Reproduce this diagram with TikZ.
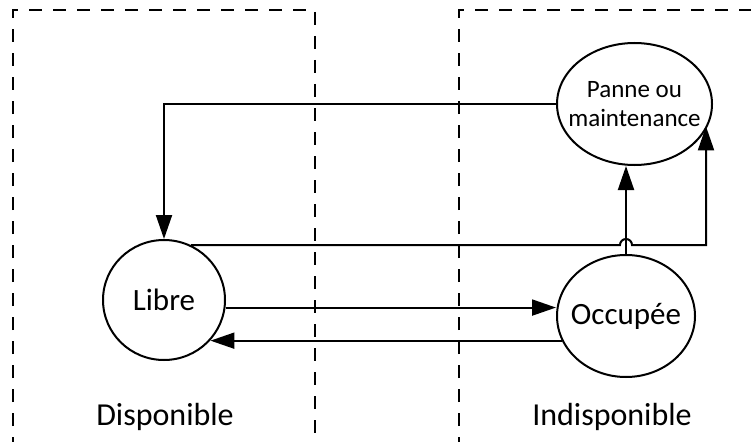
\documentclass[tikz,border=0pt]{standalone}
\usepackage{fontspec}
\setmainfont{Carlito}
\usetikzlibrary{shapes.geometric,arrows.meta}
\tikzset{
  state/.style={draw, ellipse, line width=2pt, inner sep=0pt, font=\fontsize{31}{34}\selectfont},
  arr/.style={line width=2pt, -{Triangle[length=24pt,width=16pt]}},
  zone/.style={line width=2pt, dash pattern=on 13pt off 11pt},
  zonelabel/.style={inner sep=0pt, font=\fontsize{32}{34}\selectfont}
}
\begin{document}
\begin{tikzpicture}[x=1pt, y=-1pt]
\useasboundingbox (0,0) rectangle (751,441);
% zones
\draw[zone] (13,450) -- (13,10) -- (315,10) -- (315,450);
\draw[zone] (459,450) -- (459,10) -- (760,10);
% states
\node[state, minimum width=122pt, minimum height=120pt] (Libre) at (164,300) {\makebox[0pt]{Libre}};
\node[state, minimum width=138pt, minimum height=122pt] (Occ) at (626,316) {\makebox[0pt]{Occupée}};
\node[state, minimum width=155pt, minimum height=122pt, align=center,
      font=\fontsize{25}{29}\selectfont] (Panne) at (634.5,104)
      {\makebox[0pt]{Panne ou}\\\makebox[0pt]{maintenance}};
% labels
\node[zonelabel] (dispo) at (165,417) {Disponible};
\node[zonelabel] (indispo) at (612,417) {Indisponible};
% connectors
\draw[arr] (Panne.west) -| (Libre.north);
\coordinate (j) at (Occ.north |- Libre.64.7);
\coordinate (c1) at (706,0);
\draw[arr] (Libre.64.7) -- ([xshift=-6pt]j) arc[start angle=180, end angle=0, radius=6pt]
  -- (c1 |- Libre.64.7) -- (c1 |- Panne.-17);
\draw[arr] (Occ.north) -- (Occ.north |- Panne.south);
\draw[arr] (Libre.-7.6) -- (Libre.-7.6 -| Occ.west);
\draw[arr] (Occ.201.6) -- (Occ.201.6 -| Libre.-41.4);
\end{tikzpicture}
\end{document}
